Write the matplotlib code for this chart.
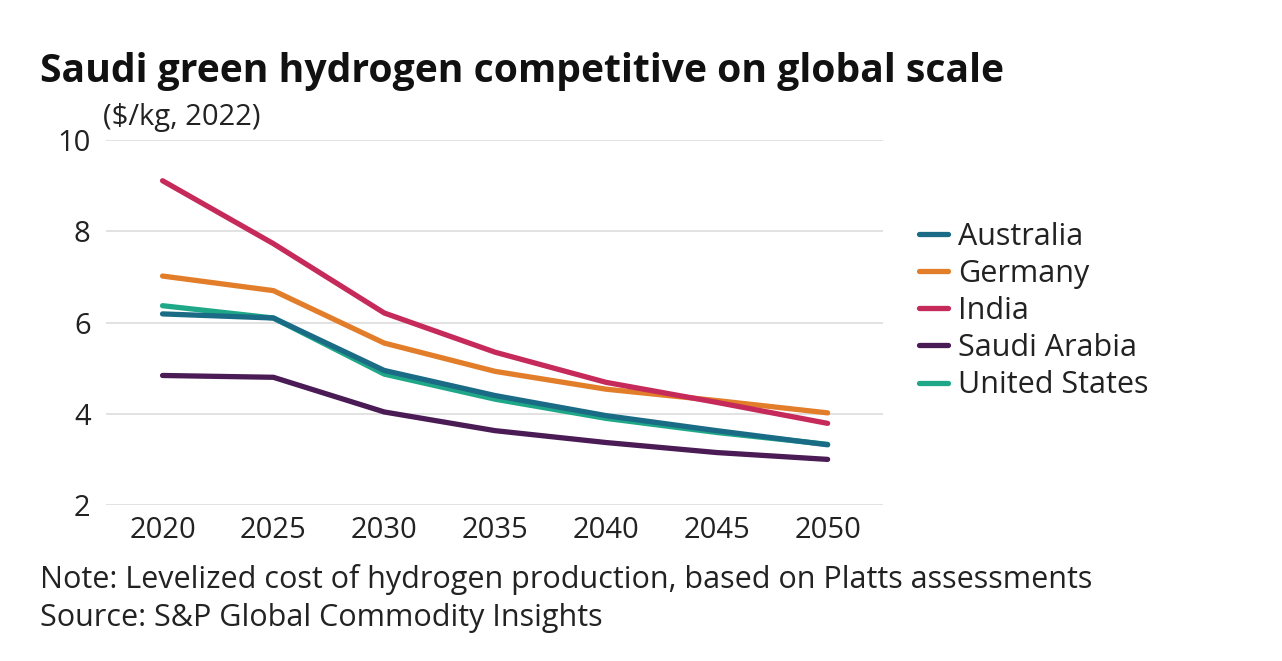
import matplotlib.pyplot as plt

# Data
years = [2020, 2025, 2030, 2035, 2040, 2045, 2050]
australia = [6.19, 6.10, 4.95, 4.40, 3.96, 3.63, 3.32]
germany = [7.02, 6.70, 5.55, 4.93, 4.54, 4.29, 4.02]
india = [9.11, 7.73, 6.21, 5.35, 4.69, 4.25, 3.79]
saudi_arabia = [4.84, 4.80, 4.04, 3.63, 3.37, 3.15, 3.00]
united_states = [6.37, 6.10, 4.87, 4.32, 3.90, 3.59, 3.33]

series = [
    ("Australia", australia, "#1a6b85"),
    ("Germany", germany, "#e27d2a"),
    ("India", india, "#c52a5a"),
    ("Saudi Arabia", saudi_arabia, "#4a1b55"),
    ("United States", united_states, "#1fa888"),
]

plt.rcParams['font.family'] = ['Open Sans', 'DejaVu Sans']

fig = plt.figure(figsize=(12.82, 6.61), dpi=100)
ax = fig.add_axes([0.0827, 0.236, 0.6061, 0.552])

# draw order: US under Australia so the teal-blue sits on top
for name, vals, col in [series[4], series[1], series[2], series[3], series[0]]:
    ax.plot(years, vals, color=col, lw=3.8, solid_capstyle='round', label=name, zorder=3)

ax.set_xlim(2017.45, 2052.5)
ax.set_ylim(2, 10)
ax.set_yticks([2, 4, 6, 8, 10])
ax.set_xticks(years)
ax.grid(axis='y', color='#dddddd', lw=1.2, zorder=0)
for s in ax.spines.values():
    s.set_visible(False)
ax.tick_params(axis='both', length=0, labelsize=21, colors='#222222')
ax.tick_params(axis='x', pad=8)
ax.tick_params(axis='y', pad=11)

handles, labels = ax.get_legend_handles_labels()
order = ["Australia", "Germany", "India", "Saudi Arabia", "United States"]
hmap = dict(zip(labels, handles))
leg = fig.legend([hmap[n] for n in order], order, loc='upper left',
                 bbox_to_anchor=(0.717, 0.664), frameon=False, fontsize=22,
                 handlelength=0.95, handletextpad=0.33, labelspacing=0.23,
                 borderpad=0, borderaxespad=0)
for t in leg.get_texts():
    t.set_color('#222222')

fig.text(0.031, 0.876, "Saudi green hydrogen competitive on global scale",
         fontsize=28.2, fontweight='bold', color='#111111', va='baseline')
fig.text(0.080, 0.811, "($/kg, 2022)", fontsize=21, color='#222222', va='baseline')
fig.text(0.031, 0.110, "Note: Levelized cost of hydrogen production, based on Platts assessments",
         fontsize=22, color='#222222', va='baseline')
fig.text(0.031, 0.053, "Source: S&P Global Commodity Insights",
         fontsize=22, color='#222222', va='baseline')

fig.savefig("out.png", dpi=100, facecolor='white')
